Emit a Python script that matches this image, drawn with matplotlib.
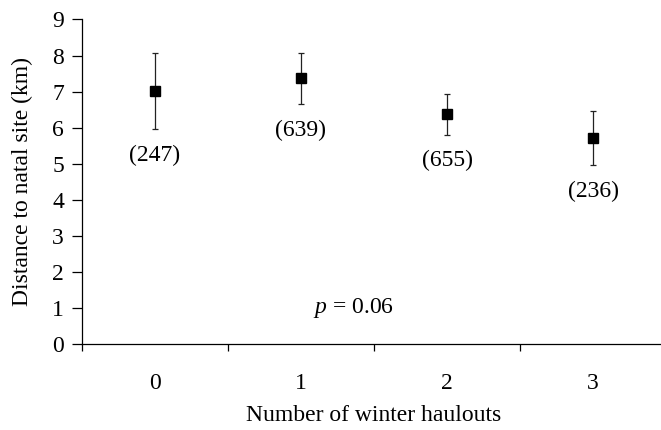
import matplotlib
matplotlib.use("Agg")
import matplotlib.pyplot as plt
import numpy as np

plt.rcParams['font.family'] = 'Liberation Serif'
plt.rcParams['mathtext.fontset'] = 'custom'
plt.rcParams['mathtext.rm'] = 'Liberation Serif'
plt.rcParams['mathtext.it'] = 'Liberation Serif:italic'

# Mean distance to natal site by number of winter haulouts
haulouts = ['0', '1', '2', '3']
means = [7.02, 7.37, 6.37, 5.71]
upper = [8.06, 8.06, 6.92, 6.46]
lower = [5.96, 6.66, 5.81, 4.97]
sample_sizes = [247, 639, 655, 236]
p_value = '0.06'

x = np.arange(len(haulouts))
means = np.array(means)
err = [means - np.array(lower), np.array(upper) - means]

fig = plt.figure(figsize=(6.61, 4.30), dpi=100)
ax = fig.add_axes([0.124, 0.2, 0.8836, 0.7547])

ax.errorbar(x, means, yerr=err, fmt='s', color='black', ms=7.7,
            ecolor='#222222', elinewidth=0.9, capsize=2, capthick=0.9)

for xi, lo, n in zip(x, lower, sample_sizes):
    ax.annotate('({})'.format(n), xy=(xi, lo), xytext=(0, -19),
                textcoords='offset points', ha='center', va='center', fontsize=17)

ax.text(1.36, 1.0, '$p$ = ' + p_value, ha='center', va='center', fontsize=17)

ax.set_xlim(-0.5, len(haulouts) - 0.5)
ax.set_ylim(0, 9)
ax.set_yticks(range(10))
ax.set_xticks(np.arange(len(haulouts) + 1) - 0.5)
ax.set_xticklabels([])
ax.set_xticks(x, minor=True)
ax.set_xticklabels(haulouts, minor=True)
ax.tick_params(axis='x', which='minor', length=0, pad=21, labelsize=17)
ax.tick_params(axis='x', which='major', direction='out', length=5, width=0.9)
ax.tick_params(axis='y', direction='out', length=7, width=0.9, labelsize=17, pad=6)

ax.spines['top'].set_visible(False)
ax.spines['right'].set_visible(False)
ax.spines['left'].set_linewidth(0.9)
ax.spines['bottom'].set_linewidth(0.9)

ax.set_xlabel('Number of winter haulouts', fontsize=17, labelpad=8)
ax.set_ylabel('Distance to natal site (km)', fontsize=17, labelpad=14)

fig.savefig('out.png', dpi=100)
